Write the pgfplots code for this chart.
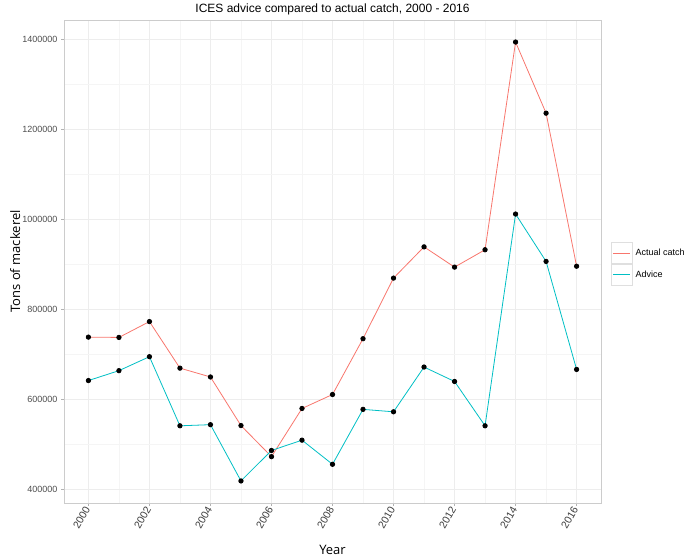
\documentclass[border=0pt]{standalone}
\usepackage{pgfplots}
\pgfplotsset{compat=1.18}
\usepackage{fontspec}
\setmainfont{Liberation Sans}
\newfontfamily\labfont{Open Sans}
\definecolor{catch}{HTML}{F8766D}
\definecolor{advice}{HTML}{00BFC4}
\definecolor{ticktext}{HTML}{4D4D4D}
\begin{document}
\begin{tikzpicture}
\useasboundingbox (0,0) rectangle (685bp,558bp);
\begin{axis}[
  at={(64bp,55bp)}, anchor=south west,
  scale only axis, width=537bp, height=483bp,
  xmin=1999.2, xmax=2016.8, ymin=370000, ymax=1443000,
  xtick={2000,2002,2004,2006,2008,2010,2012,2014,2016},
  xticklabels={2000,2002,2004,2006,2008,2010,2012,2014,2016},
  minor xtick={2001,2003,2005,2007,2009,2011,2013,2015},
  ytick={400000,600000,800000,1000000,1200000,1400000},
  yticklabels={400000,600000,800000,1000000,1200000,1400000},
  minor ytick={500000,700000,900000,1100000,1300000},
  scaled y ticks=false,
  grid=both,
  major grid style={gray!14, line width=0.6bp},
  minor grid style={gray!8, line width=0.4bp},
  axis line style={gray!40, line width=0.6bp},
  tick align=outside, major tick length=3bp, minor tick length=0pt,
  xtick pos=bottom, ytick pos=left,
  tick style={gray!60, line width=0.5bp},
  yticklabel style={font=\fontsize{9bp}{10bp}\selectfont, text=ticktext},
  xticklabel style={font=\fontsize{10.5bp}{12bp}\selectfont, text=ticktext!80!black, rotate=60, anchor=east, inner sep=2bp},
  every axis title shift=0pt,
  title={ICES advice compared to actual catch, 2000 - 2016},
  title style={font=\fontsize{12bp}{14bp}\selectfont, at={(axis description cs:0.5,1.021)}, anchor=center, inner sep=0pt},
  xlabel={Year},
  xlabel style={font=\labfont\fontsize{13bp}{15bp}\selectfont, at={(axis description cs:0.5,-0.097)}, anchor=center},
  ylabel={Tons of mackerel},
  ylabel style={font=\labfont\fontsize{13bp}{15bp}\selectfont, at={(axis description cs:-0.091,0.5)}, anchor=center},
  legend style={at={(axis description cs:1.0186,0.495)}, anchor=west, draw=none, fill=none,
    font=\fontsize{9bp}{10bp}\selectfont, row sep=0pt, column sep=3bp, inner sep=0pt,
    nodes={inner sep=0pt}},
  legend cell align=left,
  legend image code/.code={
    \draw[gray!25, fill=white, line width=0.5bp] (0bp,-10.5bp) rectangle (21bp,10.5bp);
    \draw[#1, line width=0.8bp] (2bp,0bp) -- (19bp,0bp);
  },
]
\addplot[color=catch, line width=0.8bp, mark=*, mark size=2.2bp, mark options={fill=black, draw=black}]
coordinates {
(2000,738500) (2001,737800) (2002,773000) (2003,669600) (2004,650000)
(2005,542000) (2006,473000) (2007,580000) (2008,611000) (2009,735000)
(2010,869600) (2011,939000) (2012,894000) (2013,932600) (2014,1394000)
(2015,1236000) (2016,896000)
};
\addlegendentry{Actual catch}
\addplot[color=advice, line width=0.8bp, mark=*, mark size=2.2bp, mark options={fill=black, draw=black}]
coordinates {
(2000,642000) (2001,664000) (2002,695000) (2003,541500) (2004,544000)
(2005,419000) (2006,486700) (2007,509600) (2008,456000) (2009,578000)
(2010,572600) (2011,672000) (2012,640000) (2013,541500) (2014,1011900)
(2015,906700) (2016,666700)
};
\addlegendentry{Advice}
\end{axis}
\end{tikzpicture}
\end{document}
